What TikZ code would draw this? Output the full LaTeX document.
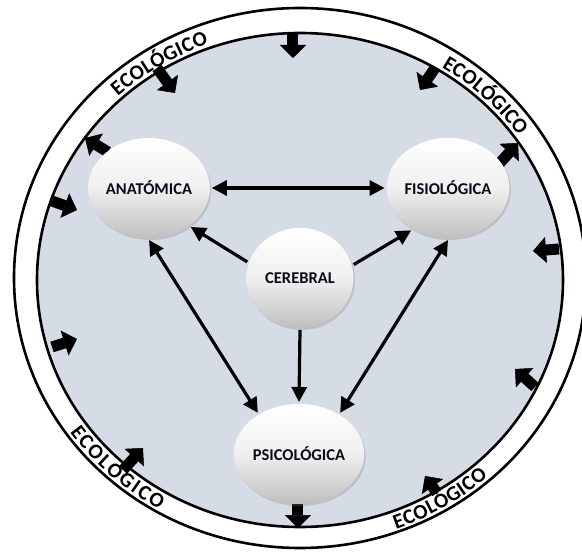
\documentclass[tikz,border=0pt]{standalone}
\usepackage{fontspec}
\setmainfont{Carlito}
\usetikzlibrary{arrows.meta,decorations.text,shadows,shapes.geometric}

\definecolor{fondo}{RGB}{214,220,229}
\definecolor{tinta}{RGB}{10,10,25}

\tikzset{
  esfera/.style={ellipse, minimum width=107pt, minimum height=100pt, inner sep=0pt, outer sep=2pt,
    top color=white, bottom color=black!25, middle color=white!94!black,
    drop shadow={opacity=0.3, shadow xshift=1.5pt, shadow yshift=-2pt},
    font=\fontsize{16.5}{18}\selectfont\bfseries, text=tinta},
  enlace/.style={line width=3.2pt},
  bloque/.style={line width=11pt, -{Triangle[length=13pt,width=26pt,line width=0.5pt]}},
  eco/.style={decorate, decoration={text along path, text align={fit to path},
    text={|\fontsize{21}{21}\selectfont\bfseries|#1}}},
}

\begin{document}
\begin{tikzpicture}[x=1pt, y=1pt, >={Triangle[length=15pt,width=15pt]}]
    \useasboundingbox (-300,-277) rectangle (282,280);

    % anillo ecologico
    \draw[line width=2.6pt, fill=white] (0,2) ellipse [x radius=286, y radius=270];
    \draw[line width=2.6pt, fill=fondo] (0,0) ellipse [x radius=263, y radius=247];

    \path[eco=ECOLÓGICO] (133:267 and 251) arc [start angle=133, end angle=110, x radius=267, y radius=251];
    \path[eco=ECOLÓGICO] (58:267 and 251) arc [start angle=58, end angle=35, x radius=267, y radius=251];
    \path[eco=ECOLOGICO] (215:281 and 265) arc [start angle=215, end angle=240, x radius=281, y radius=265];
    \path[eco=ECOLÓGICO] (290:281 and 265) arc [start angle=290, end angle=312, x radius=281, y radius=265];

    % flechas del borde
    \foreach \xa/\ya/\xb/\yb in {-7/247/-7/222, -143/212/-125/187, 135/212/120/190,
        -192/128/-215/142, 198/115/218/137, -248/79/-223/70, 259/31/233/29,
        -248/-67/-223/-59, 235/-107/215/-89, -177/-190/-157/-168, 137/-213/125/-196,
        -2/-222/-2/-248}
      \draw[bloque] (\xa,\ya) -- (\xb,\yb);

    \node[esfera] (anat) at (-151,92) {ANATÓMICA};
    \node[esfera] (fisio) at (148,92) {FISIOLÓGICA};
    \node[esfera] (cereb) at (0,2) {CEREBRAL};
    \node[esfera] (psico) at (-1,-174) {PSICOLÓGICA};

    \draw[enlace,<->] (anat.east) -- (fisio.west);
    \draw[enlace,->] (cereb.163) -- (anat.-43);
    \draw[enlace,->] (cereb.14) -- (fisio.229);
    \draw[enlace,->] (cereb.south) -- (psico.north);
    \draw[enlace,<->] (anat.south) -- (psico.135);
    \draw[enlace,<->] (fisio.south) -- (psico.45);
\end{tikzpicture}
\end{document}
